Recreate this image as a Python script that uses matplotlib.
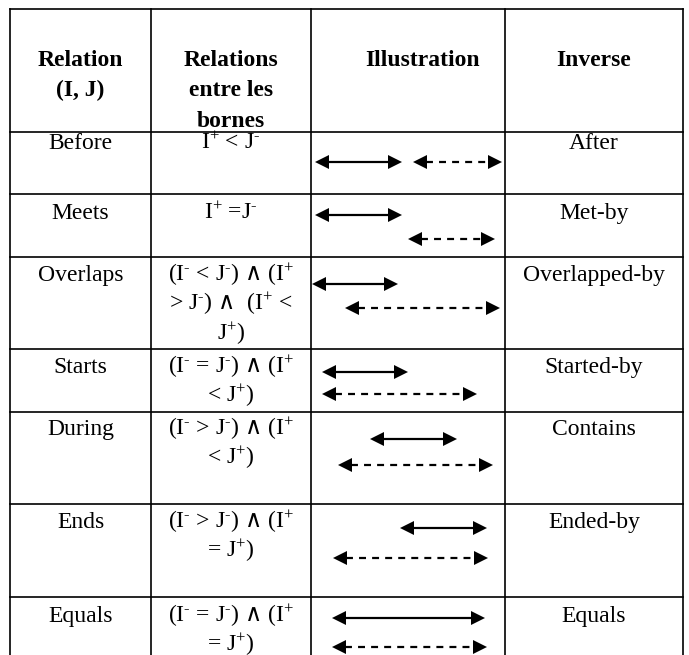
import matplotlib

matplotlib.use("Agg")
import matplotlib.pyplot as plt
from matplotlib.patches import Polygon

plt.rcParams["font.family"] = ["Liberation Serif", "DejaVu Serif"]
plt.rcParams["mathtext.fontset"] = "custom"
plt.rcParams["mathtext.rm"] = "Liberation Serif"
plt.rcParams["mathtext.fallback"] = "stixsans"
plt.rcParams["lines.scale_dashes"] = False

P = r"$\mathregular{^{+}}$"
M = r"$\mathregular{^{\text{-}}}$"
AND = r"$\mathsf{\wedge}$"

# table content
headers = [["Relation", "(I, J)"], ["Relations", "entre les", "bornes"],
           ["Illustration"], ["Inverse"]]
relations = ["Before", "Meets", "Overlaps", "Starts", "During", "Ends", "Equals"]
bounds = [
    [f"I{P} < J{M}"],
    [f"I{P} =J{M}"],
    [f"(I{M} < J{M}) {AND} (I{P}", f"> J{M}) {AND}  (I{P} <", f"J{P})"],
    [f"(I{M} = J{M}) {AND} (I{P}", f"< J{P})"],
    [f"(I{M} > J{M}) {AND} (I{P}", f"< J{P})"],
    [f"(I{M} > J{M}) {AND} (I{P}", f"= J{P})"],
    [f"(I{M} = J{M}) {AND} (I{P}", f"= J{P})"],
]
inverses = ["After", "Met-by", "Overlapped-by", "Started-by", "Contains",
            "Ended-by", "Equals"]

# interval endpoints drawn in the illustration column (I solid, J dashed)
i_start = [4, 4, 1, 11, 59, 89, 21]
i_end = [91, 91, 87, 97, 146, 176, 174]
j_start = [102, 97, 34, 11, 27, 22, 21]
j_end = [191, 184, 189, 166, 182, 177, 176]

# layout (pixels)
W, H = 689, 655
col_edges = [10, 151, 311, 505, 683]
row_edges = [9, 132, 194, 257, 349, 412, 504, 597, H]
i_dy = [30, 21, 27, 23, 27, 24, 21]
j_dy = [30, 45, 51, 45, 53, 54, 50]
text_dy = [17, 25, 24, 24, 23, 24, 25]
line_gap = 29.5
head_len, head_half = 14, 7

fig = plt.figure(figsize=(W / 100, H / 100), dpi=100)
ax = fig.add_axes([0, 0, 1, 1])
ax.set_xlim(0, W)
ax.set_ylim(H, 0)
ax.axis("off")

for x in col_edges:
    ax.plot([x, x], [row_edges[0], H], color="black", lw=1.2)
for y in row_edges[:-1]:
    ax.plot([col_edges[0], col_edges[-1]], [y, y], color="black", lw=1.2)

centers = [(a + b) / 2 for a, b in zip(col_edges[:-1], col_edges[1:])]
centers[2] = 423
fs = 17

for cx, lines in zip(centers, headers):
    for k, line in enumerate(lines):
        ax.text(cx, 66 + k * 30.5, line, ha="center", va="baseline",
                fontsize=fs, fontweight="bold")


def draw_interval(x0, x1, y, dashed):
    ls = (0, (5, 4.4)) if dashed else "-"
    ax.plot([x0 + head_len - 1, x1 - head_len + 1], [y, y], color="black",
            lw=1.6, linestyle=ls, solid_capstyle="butt")
    for tip, base in ((x0, x0 + head_len), (x1, x1 - head_len)):
        ax.add_patch(Polygon([[tip, y], [base, y - head_half], [base, y + head_half]],
                             closed=True, color="black", lw=0))


x_ill = col_edges[2]
for r, name in enumerate(relations):
    top = row_edges[r + 1]
    base = top + text_dy[r]
    ax.text(centers[0], base, name, ha="center", va="baseline", fontsize=fs)
    ax.text(centers[3], base, inverses[r], ha="center", va="baseline", fontsize=fs)
    for k, line in enumerate(bounds[r]):
        ax.text(centers[1], base + k * line_gap, line, ha="center",
                va="baseline", fontsize=fs)
    draw_interval(x_ill + i_start[r], x_ill + i_end[r], top + i_dy[r], False)
    draw_interval(x_ill + j_start[r], x_ill + j_end[r], top + j_dy[r], True)

fig.savefig("out.png", dpi=100, facecolor="white")
